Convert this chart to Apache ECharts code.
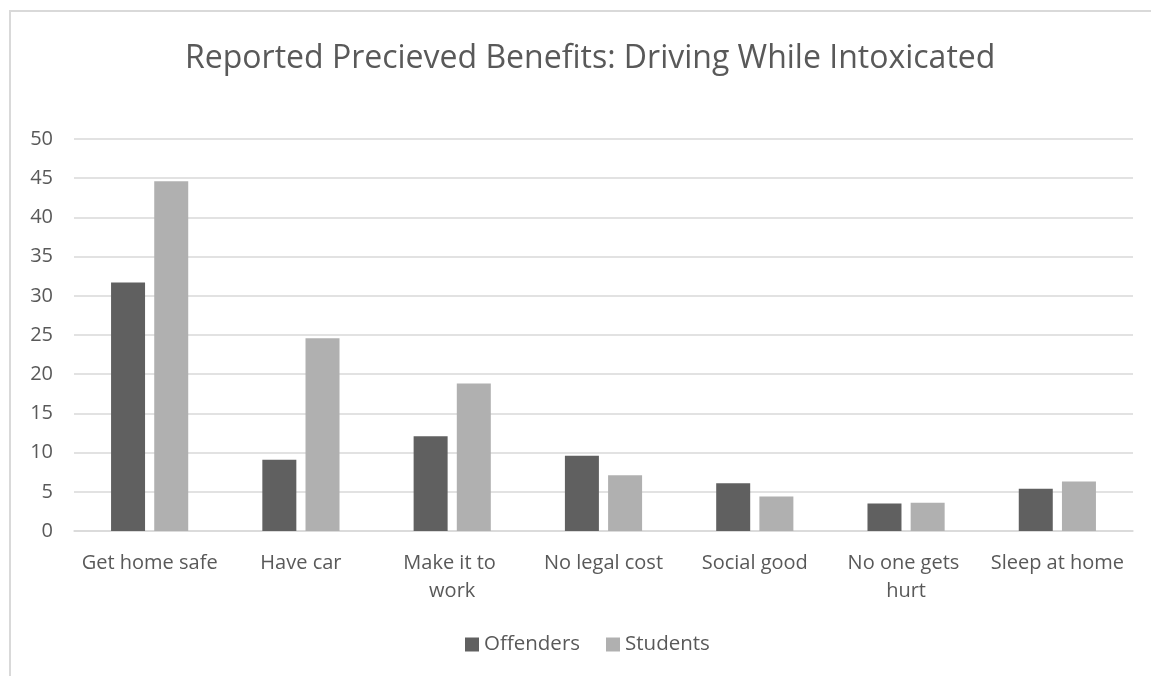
<!DOCTYPE html>
<html>
<head>
<meta charset="utf-8">
<script src="https://cdn.jsdelivr.net/npm/echarts@6/dist/echarts.min.js"></script>
<style>
html,body{margin:0;padding:0;background:#fff;}
#chart{width:1151px;height:676px;}
</style>
</head>
<body>
<div id="chart"></div>
<script>
var categories = ['Get home safe','Have car','Make it to work','No legal cost','Social good','No one gets hurt','Sleep at home'];
var offenders = [31.7, 9.1, 12.1, 9.6, 6.1, 3.5, 5.4];
var students = [44.6, 24.6, 18.8, 7.1, 4.4, 3.6, 6.3];
var yMin = 0, yMax = 50, yStep = 5;

var textColor = '#595959';
var font = 'Open Sans';

var chart = echarts.init(document.getElementById('chart'));
chart.setOption({
    animation:false,
    backgroundColor:'#fff',
    graphic:[
        {
            type:'rect',
            shape:{x:10,y:11,width:1200,height:700},
            style:{fill:'none',stroke:'#d9d9d9',lineWidth:2},
            silent:true
        }
    ],
    title:{
        text:'Reported Precieved Benefits: Driving While Intoxicated',
        left:180,
        top:38,
        textStyle:{
            color:textColor,
            fontFamily:font,
            fontSize:32,
            fontWeight:'normal'
        }
    },
    legend:{
        bottom:16,
        left:460,
        itemWidth:14,
        itemHeight:14,
        itemGap:26,
        icon:'rect',
        textStyle:{
            color:textColor,
            fontFamily:font,
            fontSize:20.5
        },
        data:['Offenders','Students']
    },
    grid:{
        left:74,
        right:18,
        top:139,
        bottom:145,
        containLabel:false
    },
    xAxis:{
        type:'category',
        data:categories,
        axisLine:{lineStyle:{color:'#d9d9d9',width:1.5}},
        axisTick:{show:false},
        axisLabel:{
            color:textColor,
            fontFamily:font,
            fontSize:20,
            margin:18,
            lineHeight:28,
            width:140,
            overflow:'break',
            interval:0
        }
    },
    yAxis:{
        type:'value',
        min:yMin,
        max:yMax,
        interval:yStep,
        axisLine:{show:false},
        axisTick:{show:false},
        splitLine:{lineStyle:{color:'#d9d9d9',width:1.5}},
        axisLabel:{
            color:textColor,
            fontFamily:font,
            fontSize:20,
            margin:21
        }
    },
    series:[
        {
            name:'Offenders',
            type:'bar',
            data:offenders,
            barWidth:34,
            barGap:'27%',
            itemStyle:{color:'#606060'}
        },
        {
            name:'Students',
            type:'bar',
            data:students,
            barWidth:34,
            itemStyle:{color:'#b0b0b0'}
        }
    ]
});
</script>
</body>
</html>
